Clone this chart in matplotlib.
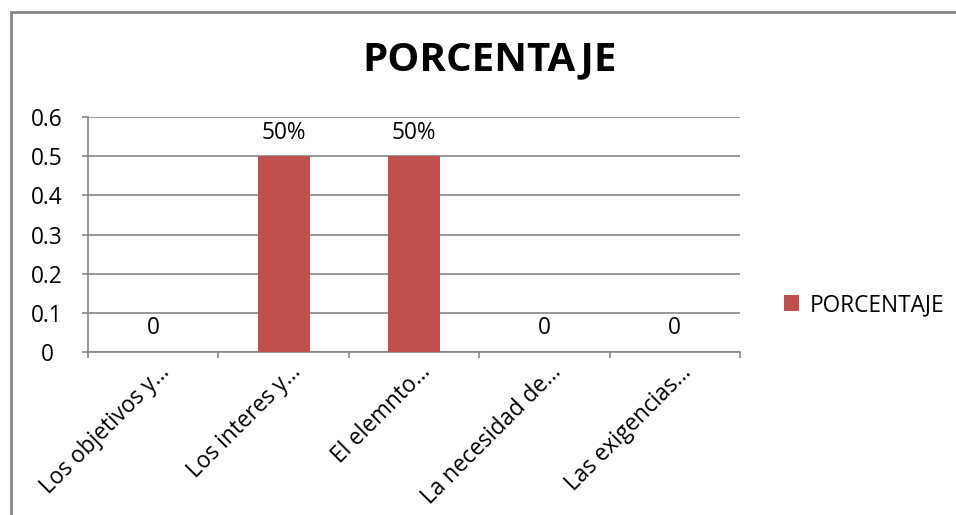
import matplotlib
matplotlib.use("Agg")
import matplotlib.pyplot as plt
from matplotlib.patches import Rectangle
from matplotlib.transforms import ScaledTranslation

categories = ["Los objetivos y…", "Los interes y…", "El elemnto…", "La necesidad de…", "Las exigencias…"]
values = [0, 0.5, 0.5, 0, 0]
value_labels = ["0", "50%", "50%", "0", "0"]
yticks = [0, 0.1, 0.2, 0.3, 0.4, 0.5, 0.6]
ytick_labels = ["0", "0.1", "0.2", "0.3", "0.4", "0.5", "0.6"]
series_name = "PORCENTAJE"

plt.rcParams['font.family'] = ['Open Sans', 'DejaVu Sans']
FS = 16.3

fig = plt.figure(figsize=(9.56, 5.15), dpi=100)
ax = fig.add_axes([88/956, 1-352/515, (740-88)/956, (352-117)/515])

grid_c = "#868686"
bar_c = "#C0504D"

x = list(range(len(categories)))
ax.bar(x, values, width=0.4, color=bar_c, zorder=3, label=series_name)
for xi, v, lab in zip(x, values, value_labels):
    ax.text(xi, v + 0.06, lab, ha='center', va='center', fontsize=FS, color='black', zorder=4)

ax.set_xlim(-0.5, len(categories) - 0.5)
ax.set_ylim(0, 0.6)
ax.set_yticks(yticks)
ax.set_yticklabels(ytick_labels, fontsize=FS, ha='center')
ax.yaxis.grid(True, color=grid_c, linewidth=1.2, zorder=0)
ax.tick_params(axis='y', length=4.5, color=grid_c, width=1.2, pad=41*0.72 - 4.5)

ax.set_xticks([i - 0.5 for i in range(len(categories) + 1)])
ax.set_xticklabels([])
ax.tick_params(axis='x', which='major', length=4.5, color=grid_c, width=1.2, direction='out')
ax.set_xticks(x, minor=True)
ax.set_xticklabels(categories, minor=True, rotation=45, ha='right', rotation_mode='anchor', fontsize=FS)
ax.tick_params(axis='x', which='minor', length=0, pad=6)
for lbl in ax.get_xticklabels(minor=True):
    lbl.set_transform(lbl.get_transform() + ScaledTranslation(5/100, 0, fig.dpi_scale_trans))

for s in ['top', 'right']:
    ax.spines[s].set_visible(False)
for s in ['left', 'bottom']:
    ax.spines[s].set_color(grid_c)
    ax.spines[s].set_linewidth(1.2)

fig.text(490/956, 1-60/515, "PORCENTAJE", ha='center', va='center', fontsize=29, fontweight='bold')

leg = fig.legend(loc='center left', bbox_to_anchor=(764/956, 1-305/515), frameon=False, fontsize=FS,
                 handlelength=0.65, handleheight=0.65, handletextpad=0.45)

fig.patches.append(Rectangle((11/956, -0.1), 1.2, 1 - 12/515 + 0.1, transform=fig.transFigure,
                             fill=False, edgecolor=grid_c, linewidth=2))

fig.savefig("out.png", dpi=100)
